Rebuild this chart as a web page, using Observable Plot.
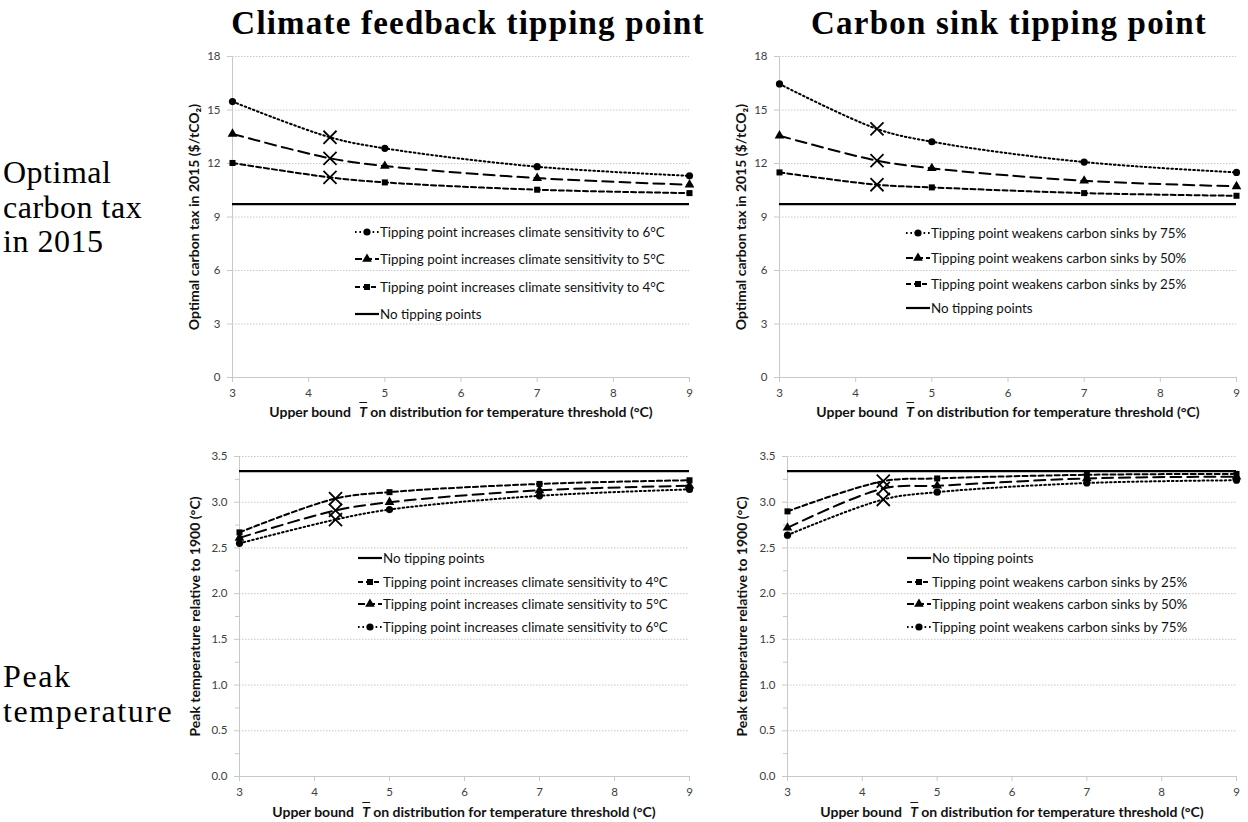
<!DOCTYPE html>
<html><head><meta charset="utf-8">
<script src="https://cdn.jsdelivr.net/npm/d3@7"></script>
<script src="https://cdn.jsdelivr.net/npm/@observablehq/plot@0.6"></script>
<style>
body{margin:0;background:#fff;width:1248px;height:822px;position:relative;overflow:hidden;font-family:Lato,"Open Sans",sans-serif;}
.title{position:absolute;font-family:"Liberation Serif",serif;font-weight:bold;font-size:33px;letter-spacing:1.2px;line-height:1.15;white-space:nowrap;transform:translateX(-50%);color:#000;}
.row{position:absolute;font-family:"Liberation Serif",serif;font-size:32px;letter-spacing:0.5px;line-height:34.5px;color:#000;}
.row.wide{letter-spacing:1.6px;}
.panel{position:absolute;}
.xlabel{position:absolute;font-weight:bold;font-size:14px;line-height:14px;white-space:nowrap;transform:translate(-50%,-50%);color:#111;}
.xlabel i{text-decoration:overline;margin:0 3px 0 5px;}
.legend{position:absolute;font-size:13.4px;color:#111;}
.legend .item{position:absolute;left:0;white-space:nowrap;display:flex;align-items:center;transform:translateY(-50%);}
.legend svg{display:block;}
</style>
</head><body>
<script>
// ---------- data ----------
const xBounds = [3, 4.28, 5, 7, 9];
const tippingMarkX = 4.28;
const xTicks = [3, 4, 5, 6, 7, 8, 9];

const taxTicks = [0, 3, 6, 9, 12, 15, 18];
const peakTicks = [0, 0.5, 1, 1.5, 2, 2.5, 3, 3.5];
const peakMinorTicks = [0.25, 0.75, 1.25, 1.75, 2.25, 2.75, 3.25];

const taxNoTipping = 9.72;
const peakNoTipping = 3.34;

const noTippingLabel = "No tipping points";
const climateLabels = [
  "Tipping point increases climate sensitivity to 4°C",
  "Tipping point increases climate sensitivity to 5°C",
  "Tipping point increases climate sensitivity to 6°C"
];
const sinkLabels = [
  "Tipping point weakens carbon sinks by 25%",
  "Tipping point weakens carbon sinks by 50%",
  "Tipping point weakens carbon sinks by 75%"
];

const taxClimate4 = [12.03, 11.22, 10.94, 10.53, 10.34];
const taxClimate5 = [13.66, 12.29, 11.86, 11.18, 10.81];
const taxClimate6 = [15.47, 13.47, 12.85, 11.82, 11.31];
const taxSink25 = [11.50, 10.81, 10.66, 10.34, 10.19];
const taxSink50 = [13.56, 12.16, 11.73, 11.03, 10.72];
const taxSink75 = [16.46, 13.94, 13.22, 12.08, 11.50];

const peakClimate4 = [2.67, 3.04, 3.11, 3.20, 3.24];
const peakClimate5 = [2.61, 2.91, 3.00, 3.13, 3.18];
const peakClimate6 = [2.55, 2.81, 2.92, 3.07, 3.14];
const peakSink25 = [2.90, 3.23, 3.26, 3.30, 3.31];
const peakSink50 = [2.72, 3.15, 3.18, 3.26, 3.28];
const peakSink75 = [2.64, 3.03, 3.11, 3.21, 3.24];

const titles = ["Climate feedback tipping point", "Carbon sink tipping point"];
const rowLabels = [["Optimal", "carbon tax", "in 2015"], ["Peak", "temperature"]];
const taxAxisLabel = "Optimal carbon tax in 2015 ($/tCO\u2082)";
const peakAxisLabel = "Peak temperature relative to 1900 (°C)";

// ---------- styles ----------
const seriesStyles = [
  {dash: "5,3", symbol: "square", r: 3.4},
  {dash: "11,6", symbol: "triangle", r: 3.6},
  {dash: "1.6,2.8", symbol: "circle", r: 3.6}
];
const gridColor = "#c8c8c8";

function panel({values, noTip, yDomain, yTicks, yMinor, yFormat, yLabel, labelOffset, ml, mr, mt, mb, width, height}) {
  const marks = [
    Plot.gridY(yTicks, {stroke: gridColor, strokeOpacity: 1, strokeDasharray: "1.5,1.5"}),
    Plot.ruleX([xBounds[0]], {stroke: gridColor}),
    Plot.ruleY([yDomain[0]], {stroke: gridColor}),
    Plot.axisX({ticks: xTicks, tickFormat: d3.format("d"), tickSize: 5, tickPadding: 6, stroke: gridColor, fill: "#404040", label: null, fontSize: 11.5}),
    Plot.axisY({ticks: yTicks, tickFormat: yFormat, tickSize: 5, tickPadding: 7, stroke: gridColor, fill: "#404040", label: null, fontSize: 11.5}),
    Plot.axisY({ticks: [], label: yLabel, labelAnchor: "center", labelArrow: "none", labelOffset, fill: "#111", fontWeight: "bold", fontSize: 14}),
    Plot.ruleY([noTip], {stroke: "black", strokeWidth: 2.4})
  ];
  if (yMinor) marks.push(Plot.axisY({ticks: yMinor, tickFormat: () => "", tickSize: 4, stroke: gridColor, label: null}));
  values.forEach((vals, i) => {
    const st = seriesStyles[i];
    const data = xBounds.map((x, j) => ({x, y: vals[j]}));
    marks.push(Plot.line(data, {x: "x", y: "y", curve: "catmull-rom", stroke: "black", strokeWidth: 2, strokeDasharray: st.dash}));
    marks.push(Plot.dot(data.filter(d => d.x !== tippingMarkX), {x: "x", y: "y", symbol: st.symbol, r: st.r, fill: "black", stroke: "none"}));
    marks.push(Plot.dot(data.filter(d => d.x === tippingMarkX), {x: "x", y: "y", symbol: "times", r: 6, stroke: "black", strokeWidth: 1.8}));
  });
  return Plot.plot({
    width, height, marginLeft: ml, marginRight: mr, marginTop: mt, marginBottom: mb,
    style: {fontFamily: "Lato, 'Open Sans', sans-serif", fontSize: "12px", background: "white", overflow: "visible"},
    x: {domain: [xBounds[0], xBounds[xBounds.length - 1]]},
    y: {domain: yDomain},
    marks
  });
}

function place(node, left, top) {
  const d = document.createElement("div");
  d.className = "panel"; d.style.left = left + "px"; d.style.top = top + "px";
  d.appendChild(node); document.body.appendChild(d);
}

const fmt1 = d3.format(".1f");
const taxDomain = [0, 18], peakDomain = [0, 3.5];

place(panel({values: [taxClimate4, taxClimate5, taxClimate6], noTip: taxNoTipping, yDomain: taxDomain, yTicks: taxTicks, yFormat: d3.format("d"), yLabel: taxAxisLabel, labelOffset: 43, ml: 47, mr: 11, mt: 11, mb: 26, width: 515, height: 358}), 185, 45);
place(panel({values: [taxSink25, taxSink50, taxSink75], noTip: taxNoTipping, yDomain: taxDomain, yTicks: taxTicks, yFormat: d3.format("d"), yLabel: taxAxisLabel, labelOffset: 43, ml: 44, mr: 9, mt: 11, mb: 26, width: 510, height: 358}), 735, 45);
place(panel({values: [peakClimate4, peakClimate5, peakClimate6], noTip: peakNoTipping, yDomain: peakDomain, yTicks: peakTicks, yMinor: peakMinorTicks, yFormat: fmt1, yLabel: peakAxisLabel, labelOffset: 49, ml: 54, mr: 11, mt: 11, mb: 26, width: 515, height: 357}), 185, 445);
place(panel({values: [peakSink25, peakSink50, peakSink75], noTip: peakNoTipping, yDomain: peakDomain, yTicks: peakTicks, yMinor: peakMinorTicks, yFormat: fmt1, yLabel: peakAxisLabel, labelOffset: 50, ml: 52, mr: 9, mt: 11, mb: 26, width: 510, height: 357}), 735, 445);

// ---------- titles, row labels, x labels ----------
function addDiv(cls, left, top, html) {
  const d = document.createElement("div");
  d.className = cls; d.style.left = left + "px"; d.style.top = top + "px";
  d.innerHTML = html; document.body.appendChild(d); return d;
}
addDiv("title", 468, 5, titles[0]);
addDiv("title", 1009, 5, titles[1]);
addDiv("row", 3, 155, rowLabels[0].join("<br>"));
addDiv("row wide", 3, 659, rowLabels[1].join("<br>"));
const xLabelHtml = "Upper bound <i>T</i>on distribution for temperature threshold (°C)";
addDiv("xlabel", 461, 412, xLabelHtml);
addDiv("xlabel", 1008, 412, xLabelHtml);
addDiv("xlabel", 464, 812, xLabelHtml);
addDiv("xlabel", 1012, 812, xLabelHtml);

// ---------- legends ----------
function swatch(i) {
  const svg = d3.create("svg").attr("width", 25).attr("height", 12);
  if (i < 0) {
    svg.append("line").attr("x1", 0).attr("x2", 24).attr("y1", 6).attr("y2", 6).attr("stroke", "black").attr("stroke-width", 2.2);
  } else {
    const st = seriesStyles[i];
    svg.append("line").attr("x1", 0).attr("x2", 24).attr("y1", 6).attr("y2", 6).attr("stroke", "black").attr("stroke-width", 2).attr("stroke-dasharray", i === 1 ? "7,3" : st.dash);
    const sym = {circle: d3.symbolCircle, triangle: d3.symbolTriangle, square: d3.symbolSquare}[st.symbol];
    svg.append("path").attr("transform", "translate(12,6)").attr("d", d3.symbol(sym, Math.PI * st.r * st.r)()).attr("fill", "black");
  }
  return svg.node();
}
function legend(left, order, labels, ys) {
  const box = document.createElement("div");
  box.className = "legend"; box.style.left = left + "px"; box.style.top = "0px";
  order.forEach((idx, k) => {
    const it = document.createElement("div");
    it.className = "item"; it.style.top = ys[k] + "px";
    it.appendChild(swatch(idx));
    const t = document.createElement("span");
    t.textContent = idx < 0 ? noTippingLabel : labels[idx];
    it.appendChild(t);
    box.appendChild(it);
  });
  document.body.appendChild(box);
}
legend(355, [2, 1, 0, -1], climateLabels, [232, 259, 287, 314]);
legend(906, [2, 1, 0, -1], sinkLabels, [233, 258, 284, 308]);
legend(358, [-1, 0, 1, 2], climateLabels, [558, 582, 604, 627]);
legend(907, [-1, 0, 1, 2], sinkLabels, [558, 582, 604, 627]);
</script>
</body></html>
